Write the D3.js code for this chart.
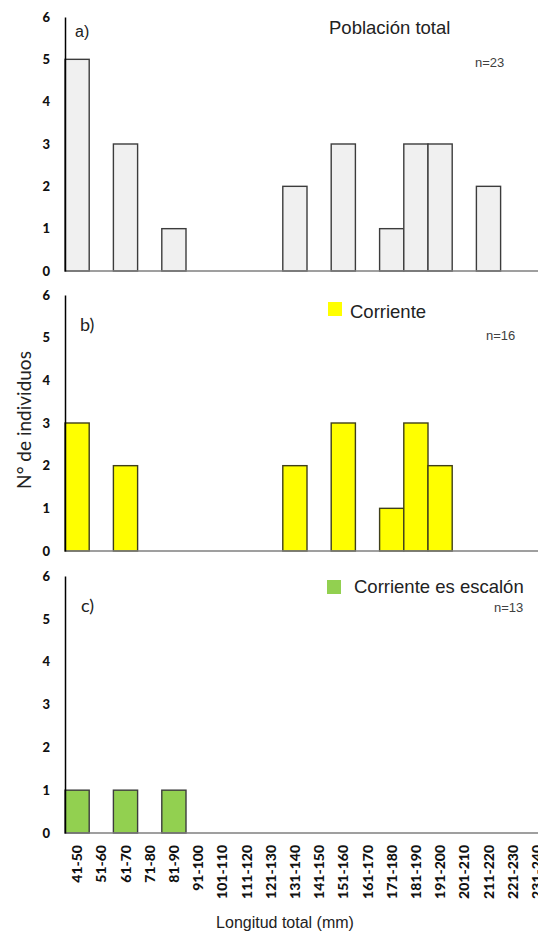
<!DOCTYPE html>
<html>
<head>
<meta charset="utf-8">
<script src="https://cdn.jsdelivr.net/npm/d3@7"></script>
<style>
  html, body { margin: 0; padding: 0; background: #fff; }
  svg { display: block; }
</style>
</head>
<body>
<script>
// Length classes (mm)
const categories = ["41-50","51-60","61-70","71-80","81-90","91-100","101-110","111-120","121-130","131-140",
  "141-150","151-160","161-170","171-180","181-190","191-200","201-210","211-220","221-230","231-240"];
// Number of individuals per class
const totalCounts     = [5,0,3,0,1,0,0,0,0,2,0,3,0,1,3,3,0,2,0,0];
const corrienteCounts = [3,0,2,0,0,0,0,0,0,2,0,3,0,1,3,2,0,0,0,0];
const escalonCounts   = [1,0,1,0,1,0,0,0,0,0,0,0,0,0,0,0,0,0,0,0];
const yTicks = [0,1,2,3,4,5,6];
const panelTags   = ["a)","b)","c)"];
const panelTitles = ["Población total","Corriente","Corriente es escalón"];
const panelN      = ["n=23","n=16","n=13"];

const W = 538, H = 935;
const ARIAL = "'Liberation Sans', Arial, sans-serif";
const CALIBRI = "Lato, 'Open Sans', sans-serif";

const svg = d3.select("body").append("svg").attr("width", W).attr("height", H);

const x = d3.scaleBand().domain(categories).range([65, 65 + categories.length * 24.2]).padding(0);

const panels = [
  { values: totalCounts, y0: 271, y6: 17, fill: "#f0f0f0", stroke: "#3c3c3c",
    tag: [75, 37], tagFont: ARIAL, tagSize: 16, title: [329, 34], key: null, n: [475, 67] },
  { values: corrienteCounts, y0: 551, y6: 295, fill: "#ffff00", stroke: "#3f3f1a",
    tag: [80, 331], tagFont: CALIBRI, tagSize: 18, title: [350, 318], key: [328, 302], n: [486, 340] },
  { values: escalonCounts, y0: 833, y6: 576, fill: "#92d050", stroke: "#3c3c3c",
    tag: [81, 612], tagFont: CALIBRI, tagSize: 18, title: [354, 593], key: [327, 580], n: [494, 612] }
];

panels.forEach((p, i) => {
  const y = d3.scaleLinear().domain([0, 6]).range([p.y0, p.y6]);
  const g = svg.append("g");

  // bars
  g.selectAll("rect.bar")
    .data(categories.map((c, k) => ({ c, v: p.values[k] })).filter(d => d.v > 0))
    .join("rect")
    .attr("class", "bar")
    .attr("x", d => x(d.c))
    .attr("y", d => y(d.v))
    .attr("width", x.bandwidth())
    .attr("height", d => y(0) - y(d.v))
    .attr("fill", p.fill)
    .attr("stroke", p.stroke)
    .attr("stroke-width", 1.4);

  // baseline across the full width
  g.append("line")
    .attr("x1", 65).attr("x2", W)
    .attr("y1", y(0)).attr("y2", y(0))
    .attr("stroke", "#7f7f7f").attr("stroke-width", 1.5);

  // y axis
  const ay = g.append("g").attr("transform", "translate(65,0)")
    .call(d3.axisLeft(y).tickValues(yTicks).tickFormat(d3.format("d")).tickSize(0).tickPadding(15));
  ay.select(".domain").attr("stroke", "#000").attr("stroke-width", 1.5);
  ay.selectAll("text")
    .attr("font-family", CALIBRI)
    .attr("font-weight", 900).attr("font-size", 13).attr("fill", "#111");

  // panel tag
  g.append("text").attr("x", p.tag[0]).attr("y", p.tag[1])
    .attr("font-family", p.tagFont).attr("font-size", p.tagSize)
    .attr("fill", "#222").text(panelTags[i]);

  // legend key
  if (p.key) {
    g.append("rect").attr("x", p.key[0]).attr("y", p.key[1])
      .attr("width", 14).attr("height", 14).attr("fill", p.fill);
  }
  g.append("text").attr("x", p.title[0]).attr("y", p.title[1])
    .attr("font-family", ARIAL).attr("font-size", 18.5)
    .attr("fill", "#222").text(panelTitles[i]);

  g.append("text").attr("x", p.n[0]).attr("y", p.n[1])
    .attr("font-family", ARIAL).attr("font-size", 13)
    .attr("fill", "#404040").text(panelN[i]);
});

// category labels under the bottom panel
const ax = svg.append("g").attr("transform", "translate(0,833)")
  .call(d3.axisBottom(x).tickSize(0).tickPadding(0));
ax.select(".domain").remove();
ax.selectAll("text")
  .attr("font-family", CALIBRI)
  .attr("font-weight", 900).attr("font-size", 14).attr("fill", "#111")
  .attr("text-anchor", "end")
  .attr("dy", null)
  .attr("transform", "translate(5,12) rotate(-90)")
  .attr("x", 0).attr("y", 0);

// axis titles
svg.append("text")
  .attr("transform", "translate(31,420) rotate(-90)")
  .attr("text-anchor", "middle")
  .attr("font-family", CALIBRI).attr("font-size", 19)
  .attr("fill", "#222").text("N° de individuos");

svg.append("text")
  .attr("x", 285).attr("y", 928)
  .attr("text-anchor", "middle")
  .attr("font-family", ARIAL).attr("font-size", 16)
  .attr("fill", "#222").text("Longitud total (mm)");
</script>
</body>
</html>
